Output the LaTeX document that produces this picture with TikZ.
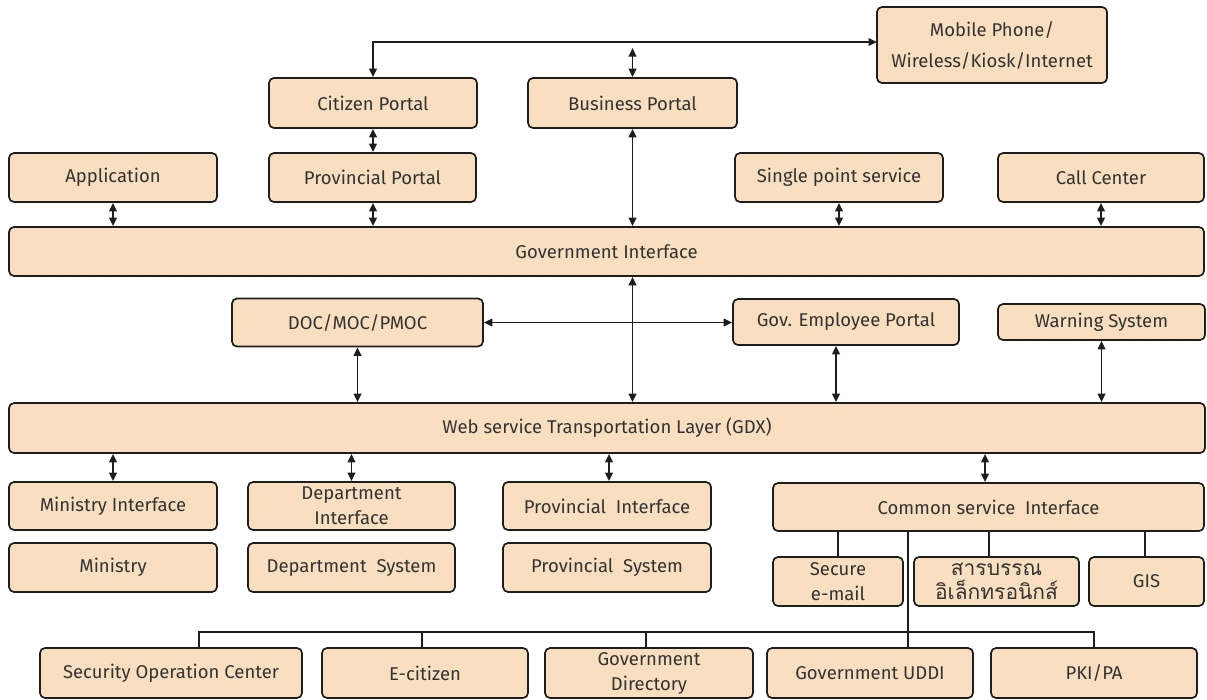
\documentclass[tikz,border=0pt]{standalone}
\usepackage{fontspec}
\setmainfont{Fira Sans}
\newfontfamily\thaifont[Script=Thai]{Loma}
\usetikzlibrary{arrows.meta}
\definecolor{peach}{HTML}{F9DEC0}
\definecolor{edge}{HTML}{1E1E1E}
\definecolor{txt}{HTML}{333333}
\tikzset{
  box/.style={draw=edge, line width=1.7pt, rounded corners=5pt, fill=peach,
    inner sep=0pt, align=center, text=txt, font=\fontsize{18.5}{25}\selectfont},
  link/.style={draw=edge, line width=1.9pt},
  dbl/.style={link, {Triangle[length=8.5pt,width=7.5pt]}-{Triangle[length=8.5pt,width=7.5pt]}},
  one/.style={link, -{Triangle[length=8.5pt,width=7.5pt]}}
}
\begin{document}
\begin{tikzpicture}[x=1pt,y=-1pt]
\useasboundingbox (0,0) rectangle (1207,699);
% top row
\node[box, minimum width=230, minimum height=76, font=\fontsize{18.5}{31}\selectfont] (mobile) at (992,45) {Mobile Phone/\\Wireless/Kiosk/Internet};
\node[box, minimum width=208, minimum height=50] (citizen) at (373,103) {Citizen Portal};
\node[box, minimum width=209, minimum height=50] (business) at (632.5,103) {Business Portal};
% second row
\node[box, minimum width=208, minimum height=49] (application) at (113,177.5) {Application};
\node[box, minimum width=207, minimum height=49] (provportal) at (372.5,177.5) {Provincial Portal};
\node[box, minimum width=208, minimum height=49] (single) at (839,177.5) {Single point service};
\node[box, minimum width=206, minimum height=49] (callcenter) at (1101,177.5) {Call Center};
\node[box, minimum width=1195, minimum height=49] (govif) at (606.5,251.5) {Government Interface};
% third row
\node[box, minimum width=251, minimum height=48] (doc) at (357.5,322.5) {DOC/MOC/PMOC};
\node[box, minimum width=226, minimum height=46] (govemp) at (846,322) {Gov. Employee Portal};
\node[box, minimum width=207, minimum height=36] (warning) at (1101.5,322) {Warning System};
\node[box, minimum width=1196, minimum height=50] (gdx) at (607,428) {Web service Transportation Layer (GDX)};
% fourth row
\node[box, minimum width=208, minimum height=48] (minif) at (113,506) {Ministry Interface};
\node[box, minimum width=208, minimum height=49] (ministry) at (113,567.5) {Ministry};
\node[box, minimum width=207, minimum height=48] (deptif) at (351.5,506) {Department\\Interface};
\node[box, minimum width=207, minimum height=49] (deptsys) at (351.5,567.5) {Department~~System};
\node[box, minimum width=208, minimum height=48] (provif) at (607,506) {Provincial~~Interface};
\node[box, minimum width=208, minimum height=49] (provsys) at (607,567.5) {Provincial~~System};
\node[box, minimum width=431, minimum height=48] (common) at (988.5,507) {Common service~~Interface};
\node[box, minimum width=130, minimum height=49] (secure) at (838,581.5) {Secure\\e-mail};
\node[box, minimum width=165, minimum height=49, font=\fontsize{21}{24}\selectfont] (saraban) at (996.5,581.5) {\thaifont สารบรรณ\\\thaifont อิเล็กทรอนิกส์};
\node[box, minimum width=115, minimum height=49] (gis) at (1146.5,581.5) {GIS};
% bottom row
\node[box, minimum width=262, minimum height=50] (soc) at (171,673) {Security Operation Center};
\node[box, minimum width=206, minimum height=50] (ecitizen) at (425,673) {E-citizen};
\node[box, minimum width=208, minimum height=50] (govdir) at (649,673) {Government\\Directory};
\node[box, minimum width=206, minimum height=50] (uddi) at (870,673) {Government UDDI};
\node[box, minimum width=206, minimum height=50] (pki) at (1094,673) {PKI/PA};
% coordinates
\coordinate (bt) at (632.5,48);
\coordinate (mw) at (877,42);
\coordinate (bus) at (199,632);
\coordinate (bue) at (1094,632);
% top connectors
\draw[dbl] (citizen.north) |- (mw);
\draw[dbl] (bt) -- (business.north);
\draw[dbl] (citizen.south) -- (provportal.north -| citizen.south);
\draw[dbl] (application.south) -- (application.south |- govif.north);
\draw[dbl] (provportal.south -| citizen.south) -- (citizen.south |- govif.north);
\draw[dbl] (single.south) -- (single.south |- govif.north);
\draw[dbl] (callcenter.south) -- (callcenter.south |- govif.north);
\draw[dbl] (business.south) -- (business.south |- govif.north);
% middle connectors
\draw[dbl] (govif.south -| business.south) -- (business.south |- gdx.north);
\draw[dbl] (doc.east) -- (doc.east -| govemp.west);
\draw[dbl] (doc.south) -- (doc.south |- gdx.north);
\draw[dbl] ([xshift=-10pt]govemp.south) -- ([xshift=-10pt]govemp.south |- gdx.north);
\draw[dbl] (warning.south) -- (warning.south |- gdx.north);
% lower connectors
\draw[dbl] (gdx.south -| minif.north) -- (minif.north);
\draw[dbl] (gdx.south -| deptif.north) -- (deptif.north);
\draw[dbl] (gdx.south -| 609,0) -- (609,0 |- provif.north);
\draw[dbl] (gdx.south -| 985,0) -- (985,0 |- common.north);
% common service tree
\draw[link] (common.south -| secure.north) -- (secure.north);
\draw[link] (common.south -| 989,0) -- (989,0 |- saraban.north);
\draw[link] (common.south -| 1145,0) -- (1145,0 |- gis.north);
\draw[link] (common.south -| 908,0) -- (908,0 |- uddi.north);
\draw[link] (bus |- soc.north) -- (bus) -- (bue) -- (bue |- pki.north);
\draw[link] (422,632) -- (422,0 |- ecitizen.north);
\draw[link] (646,632) -- (646,0 |- govdir.north);
\end{tikzpicture}
\end{document}
